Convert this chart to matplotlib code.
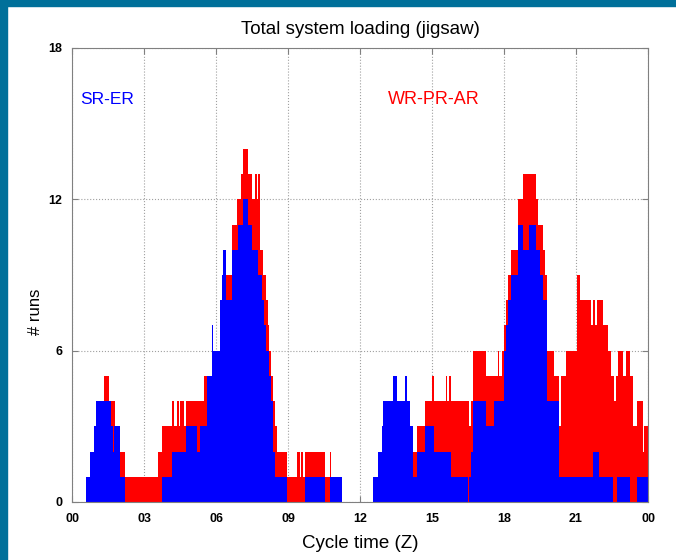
import matplotlib.pyplot as plt
from matplotlib.patches import Rectangle

# SR-ER runs (blue): each level holds from its start hour to the next start
sr_er_start = [0, 0.58, 0.74, 0.90, 1.00, 1.64, 1.69, 1.75, 1.99, 2.22, 3.75, 4.16, 4.75,
               5.20, 5.33, 5.64, 5.82, 5.89, 6.17, 6.25, 6.30, 6.42, 6.65, 6.93, 7.14,
               7.35, 7.49, 7.76, 7.90, 8.00, 8.08, 8.21, 8.29, 8.38, 8.46, 8.94, 9.71,
               10.53, 10.74, 11.26, 12.55, 12.73, 12.90, 12.97, 13.39, 13.53, 13.88,
               13.95, 14.08, 14.22, 14.36, 14.71, 15.08, 15.79, 16.50, 16.56, 16.62,
               16.70, 17.25, 17.60, 18.01, 18.08, 18.17, 18.29, 18.57, 18.78, 19.05,
               19.33, 19.50, 19.63, 19.78, 20.29, 21.72, 21.97, 22.55, 22.70, 23.25,
               23.53]
sr_er_runs = [0, 1, 2, 3, 4, 3, 2, 3, 1, 0, 1, 2, 3,
              2, 3, 5, 7, 6, 8, 9, 10, 8, 10, 11, 12,
              11, 10, 9, 8, 7, 6, 5, 4, 2, 1, 0, 1,
              0, 1, 0, 1, 2, 3, 4, 5, 4, 5,
              4, 3, 1, 2, 3, 2, 1, 0, 1, 2,
              4, 3, 4, 6, 7, 8, 9, 11, 10, 11,
              10, 9, 8, 4, 1, 2, 1, 0, 1, 0,
              1]

# total runs (SR-ER + WR-PR-AR, red)
total_start = [0, 0.58, 0.74, 0.90, 1.00, 1.35, 1.55, 1.80, 1.99, 2.22, 3.57, 3.75, 4.17,
               4.25, 4.38, 4.45, 4.50, 4.65, 4.75, 5.50, 5.82, 5.89, 6.17, 6.25, 6.30,
               6.42, 6.65, 6.88, 7.04, 7.14, 7.35, 7.49, 7.63, 7.70, 7.76, 7.83, 7.96,
               8.08, 8.15, 8.21, 8.29, 8.38, 8.46, 8.54, 8.94, 9.37, 9.48, 9.55, 9.62,
               9.71, 10.53, 10.74, 10.80, 11.26, 12.55, 12.73, 12.90, 12.97, 13.39,
               13.53, 13.88, 13.95, 14.08, 14.22, 14.36, 14.71, 14.99, 15.08, 15.58,
               15.64, 15.71, 15.79, 16.55, 16.62, 16.70, 17.25, 17.74, 17.80, 17.92,
               18.01, 18.08, 18.17, 18.29, 18.57, 18.78, 19.33, 19.43, 19.63, 19.69,
               19.80, 20.08, 20.29, 20.36, 20.58, 21.04, 21.17, 21.63, 21.69, 21.79,
               21.86, 22.14, 22.35, 22.45, 22.60, 22.65, 22.76, 22.97, 23.08, 23.25,
               23.39, 23.55, 23.80, 23.83]
total_runs = [0, 1, 2, 3, 4, 5, 4, 3, 2, 1, 2, 3, 4,
              3, 4, 3, 4, 3, 4, 5, 7, 6, 8, 9, 10,
              9, 11, 12, 13, 14, 13, 12, 13, 12, 13, 10, 9,
              8, 7, 6, 5, 4, 3, 2, 1, 2, 1, 2, 1,
              2, 1, 2, 1, 0, 1, 2, 3, 4, 5,
              4, 5, 4, 3, 2, 3, 4, 5, 4, 5,
              4, 5, 4, 3, 4, 6, 5, 6, 5, 6,
              7, 8, 9, 10, 12, 13, 12, 11, 10, 9,
              6, 5, 3, 5, 6, 9, 8, 7, 8, 7,
              8, 7, 6, 5, 4, 5, 6, 5, 6, 5,
              3, 4, 2, 3]

hour_ticks = [0, 3, 6, 9, 12, 15, 18, 21, 24]
hour_labels = ['00', '03', '06', '09', '12', '15', '18', '21', '00']
run_ticks = [0, 6, 12, 18]

plt.rcParams['font.family'] = ['Liberation Sans', 'DejaVu Sans']

fig = plt.figure(figsize=(6.76, 5.60), dpi=100)
# slide frame
fig.patches.append(Rectangle((0, 1 - 6 / 560), 1, 6 / 560, transform=fig.transFigure,
                             color='#00709a', zorder=0))
fig.patches.append(Rectangle((0, 0), 7 / 676, 1, transform=fig.transFigure,
                             color='#00709a', zorder=0))

ax = fig.add_axes([72 / 676, 1 - 502 / 560, 576 / 676, 454 / 560])

ax.stairs(total_runs, total_start + [24], baseline=0, fill=True, color='#ff0000', lw=0)
ax.stairs(sr_er_runs, sr_er_start + [24], baseline=0, fill=True, color='#0000ff', lw=0)

ax.set_xlim(0, 24)
ax.set_ylim(0, 18)
ax.set_xticks(hour_ticks)
ax.set_xticklabels(hour_labels, fontsize=9, fontweight='bold')
ax.set_yticks(run_ticks)
ax.set_yticklabels([str(t) for t in run_ticks], fontsize=9, fontweight='bold')
ax.tick_params(direction='in', top=True, right=True, length=4, color='#808080')
ax.tick_params(axis='x', pad=8)
ax.tick_params(axis='y', pad=7)
ax.grid(True, linestyle=':', color='#a0a0a0', linewidth=0.8)
ax.set_axisbelow(True)
for s in ax.spines.values():
    s.set_color('#808080')

ax.text(0.33, 15.97, 'SR-ER', color='#0000ff', fontsize=12.5, ha='left', va='center')
ax.text(13.17, 15.97, 'WR-PR-AR', color='#ff0000', fontsize=13, ha='left', va='center')

fig.text(360 / 676, 1 - 30 / 560, 'Total system loading (jigsaw)', fontsize=13.5,
         ha='center', va='center')
fig.text(360 / 676, 1 - 544 / 560, 'Cycle time (Z)', fontsize=13.5, ha='center', va='center')
fig.text(36 / 676, 1 - 312 / 560, '# runs', fontsize=12, rotation=90, ha='center', va='center')

fig.savefig('out.png', dpi=100)
